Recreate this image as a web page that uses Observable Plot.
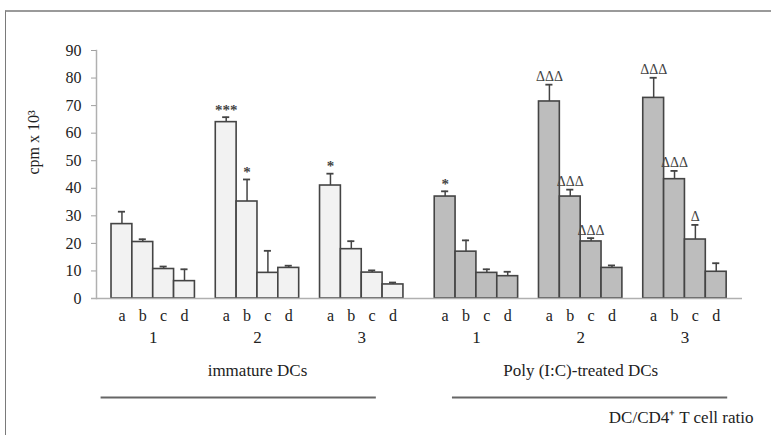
<!DOCTYPE html>
<html><head><meta charset="utf-8">
<script src="https://cdn.jsdelivr.net/npm/d3@7"></script>
<script src="https://cdn.jsdelivr.net/npm/@observablehq/plot@0.6"></script>
<style>
body{margin:0;background:#fff}
#wrap{position:relative;width:771px;height:435px;overflow:hidden}
#border{position:absolute;left:5px;top:10px;right:-5px;bottom:-5px;border-left:1.5px solid #7a7a7a;border-top:2px solid #9a9a9a;pointer-events:none}
</style></head><body><div id="wrap"><div id="border"></div></div>
<script>
const conditions = ["immature DCs", "Poly (I:C)-treated DCs"];
const groups = ["1", "2", "3"];
const letters = ["a", "b", "c", "d"];
const yTicks = [0, 10, 20, 30, 40, 50, 60, 70, 80, 90];
const yLabel = "cpm x 10³";
const xTitle = "DC/CD4⁺ T cell ratio";

const immatureMeans = [[27, 20.5, 10.7, 6.3], [64, 35.2, 9.3, 11.1], [41, 17.9, 9.4, 5.1]];
const immatureErr   = [[4.5, 1.0, 0.9, 4.3], [1.8, 8.0, 8.0, 0.8], [4.3, 2.9, 0.8, 0.7]];
const immatureSig   = [["", "", "", ""], ["***", "*", "", ""], ["*", "", "", ""]];

const polyMeans = [[37, 17, 9.3, 8.1], [71.5, 37, 20.7, 11.1], [72.8, 43.3, 21.4, 9.7]];
const polyErr   = [[1.9, 4.1, 1.3, 1.6], [6.1, 2.5, 1.2, 0.9], [7.3, 3.0, 5.3, 3.1]];
const polySig   = [["*", "", "", ""], ["ΔΔΔ", "ΔΔΔ", "ΔΔΔ", ""], ["ΔΔΔ", "ΔΔΔ", "Δ", ""]];

const fills = ["#f2f2f2", "#bdbdbd"];

// layout: slot index per bar (condition blocks, group blocks of 4 bars + gap)
const condStart = [0, 15.5];
const underlineShift = [-0.9, 0.45];
const means = [immatureMeans, polyMeans], errs = [immatureErr, polyErr], sigs = [immatureSig, polySig];

const bars = [];
conditions.forEach((c, ci) => groups.forEach((g, gi) => letters.forEach((l, li) => {
  bars.push({cond: c, ci, group: g, letter: l, s: condStart[ci] + gi * 5 + li,
    v: means[ci][gi][li], e: errs[ci][gi][li], sig: sigs[ci][gi][li]});
})));
const groupLabels = [];
conditions.forEach((c, ci) => groups.forEach((g, gi) => groupLabels.push({g, s: condStart[ci] + gi * 5 + 1.5})));
const condLabels = conditions.map((c, ci) => ({c, ci, s: condStart[ci] + 6.5}));

const font = "'Liberation Serif', 'Times New Roman', serif";

const chart = Plot.plot({
  width: 771, height: 435,
  marginTop: 50, marginBottom: 137, marginLeft: 96, marginRight: 29,
  style: {fontFamily: font, fontSize: "15px", color: "#222", background: "transparent"},
  x: {domain: [-1.22, 29.76], axis: null},
  y: {domain: [0, 90], axis: null},
  marks: [
    Plot.frame({anchor: "left", stroke: "#b0b0b0", strokeWidth: 1.5}),
    Plot.axisY({ticks: yTicks, tickSize: 5, tickPadding: 10, stroke: "#a0a0a0", fill: "#222", label: null, fontSize: 16}),
    Plot.text([yLabel], {frameAnchor: "left", rotate: -90, dx: -63, fontSize: 16, fill: "#222"}),
    Plot.rectY(bars, {x1: d => d.s - 0.5, x2: d => d.s + 0.5, y1: 0, y2: "v",
      fill: d => fills[d.ci], stroke: "#444", strokeWidth: 1.6}),
    Plot.ruleY([0], {stroke: "#b0b0b0", strokeWidth: 1.5, insetLeft: -5}),
    Plot.ruleX(bars, {x: "s", y1: "v", y2: d => d.v + d.e, stroke: "#444", strokeWidth: 1.5}),
    Plot.ruleY(bars, {y: d => d.v + d.e, x1: d => d.s - 0.17, x2: d => d.s + 0.17, stroke: "#444", strokeWidth: 1.8}),
    Plot.text(bars.filter(d => d.sig === "*" || d.sig === "***"), {x: "s", y: d => d.v + d.e, text: "sig", dy: -7, fontSize: 15, fill: "#444", fontWeight: "bold"}),
    Plot.text(bars.filter(d => d.sig.startsWith("Δ")), {x: "s", y: d => d.v + d.e, text: "sig", dy: -8, fontSize: 14, fill: "#444"}),
    Plot.text(bars, {x: "s", y: () => 0, text: "letter", dy: 17, fontSize: 16, fill: "#222"}),
    Plot.text(groupLabels, {x: "s", y: () => 0, text: "g", dy: 39, fontSize: 17, fill: "#222"}),
    Plot.text(condLabels, {x: "s", y: () => 0, text: "c", dy: 72, fontSize: 17, fill: "#222"}),
    Plot.ruleY(condLabels, {y: () => 0, x1: d => d.s + underlineShift[d.ci] - 6.6, x2: d => d.s + underlineShift[d.ci] + 6.6, dy: 99, stroke: "#666", strokeWidth: 2}),
    Plot.text([xTitle], {frameAnchor: "right", y: () => 0, dy: 119, dx: 11, textAnchor: "end", fontSize: 17, fill: "#222"})
  ]
});
document.getElementById("wrap").prepend(chart);
</script>
</body></html>
